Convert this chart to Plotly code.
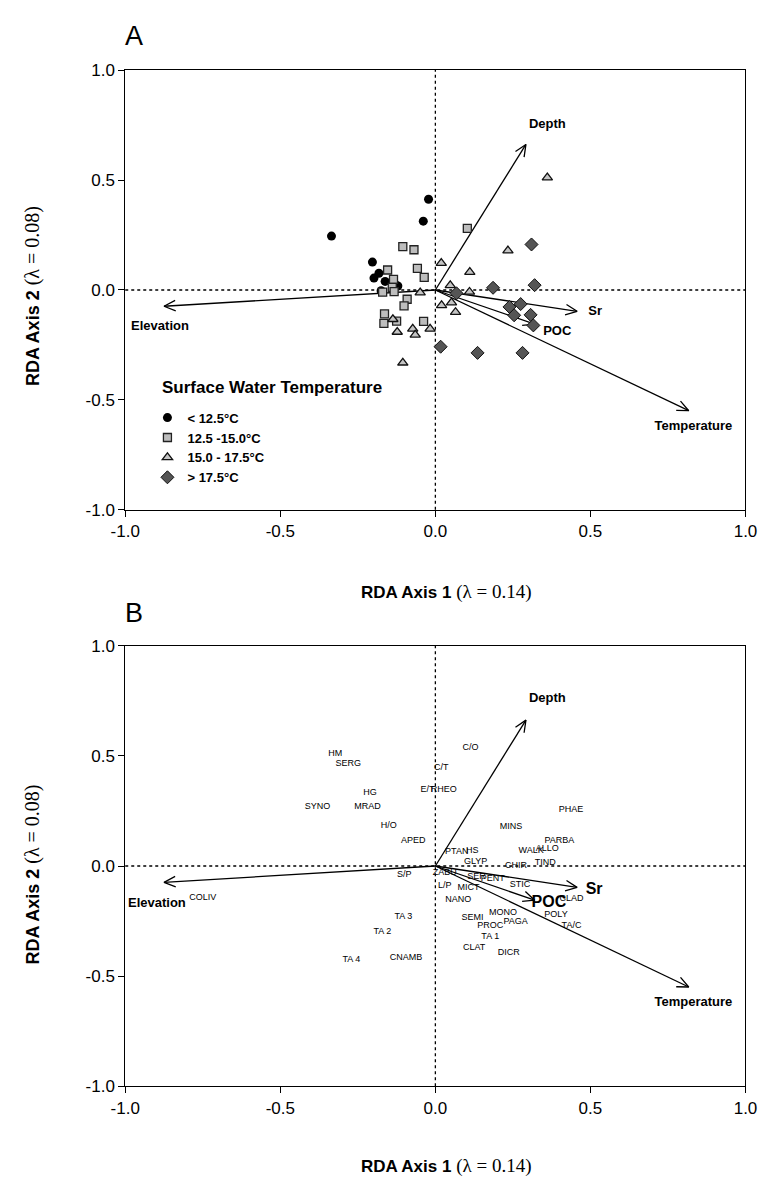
import math
import plotly.graph_objects as go

# ---------------- data ----------------
# Panel A: site scores by surface water temperature class
cold_x = [-0.335, -0.022, -0.039, -0.203, -0.182, -0.198, -0.162, -0.121, -0.130, -0.175]
cold_y = [0.245, 0.413, 0.313, 0.127, 0.076, 0.054, 0.039, 0.018, 0.027, -0.003]

cool_x = [0.103, -0.105, -0.069, -0.058, -0.154, -0.036, -0.135, -0.139, -0.170, -0.133,
          -0.091, -0.101, -0.164, -0.125, -0.166, -0.038]
cool_y = [0.280, 0.197, 0.183, 0.098, 0.091, 0.057, 0.048, 0.012, -0.010, -0.007,
          -0.042, -0.072, -0.109, -0.142, -0.152, -0.143]

warm_x = [0.361, 0.234, 0.019, 0.111, 0.048, 0.110, -0.049, 0.020, 0.052, 0.065,
          -0.137, -0.123, -0.073, -0.065, -0.017, -0.105]
warm_y = [0.511, 0.179, 0.122, 0.081, 0.021, -0.009, -0.012, -0.070, -0.057, -0.101,
          -0.133, -0.191, -0.177, -0.204, -0.177, -0.331]

hot_x = [0.310, 0.320, 0.186, 0.068, 0.275, 0.239, 0.254, 0.307, 0.316, 0.017, 0.136, 0.281]
hot_y = [0.207, 0.022, 0.010, -0.015, -0.064, -0.077, -0.115, -0.113, -0.161, -0.258, -0.286, -0.286]

class_names = ["< 12.5°C", "12.5 -15.0°C", "15.0 - 17.5°C", "> 17.5°C"]

# Environmental vectors (both panels)
env_names = ["Depth", "Elevation", "Sr", "POC", "Temperature"]
env_x = [0.292, -0.875, 0.457, 0.320, 0.817]
env_y = [0.662, -0.074, -0.097, -0.155, -0.549]

# Label positions for the vectors
envA_lx = [0.361, -0.888, 0.515, 0.393, 0.832]
envA_ly = [0.752, -0.166, -0.098, -0.192, -0.622]
envA_size = [13, 13, 13, 13, 13]
envB_lx = [0.361, -0.898, 0.512, 0.366, 0.832]
envB_ly = [0.758, -0.171, -0.107, -0.169, -0.622]
envB_size = [13, 13, 16, 16, 13]

# Panel B: taxa scores
taxa = ["HM", "SERG", "C/O", "C/T", "E/T", "RHEO", "HG", "SYNO", "MRAD", "PHAE",
        "H/O", "MINS", "APED", "PARBA", "PTAN", "HS", "WALK", "ALLO", "GLYP", "TIND",
        "CHIR", "S/P", "ZABU", "SER", "PENT", "L/P", "MICT", "STIC", "NANO", "CLAD",
        "MONO", "SEMI", "POLY", "PROC", "PAGA", "TA/C", "TA 1", "CLAT", "DICR",
        "TA 3", "TA 2", "TA 4", "CNAMB", "COLIV"]
taxa_x = [-0.323, -0.281, 0.113, 0.019, -0.025, 0.027, -0.211, -0.380, -0.219, 0.437,
          -0.150, 0.244, -0.071, 0.400, 0.069, 0.119, 0.309, 0.361, 0.130, 0.354,
          0.260, -0.100, 0.030, 0.133, 0.185, 0.030, 0.107, 0.273, 0.074, 0.439,
          0.218, 0.120, 0.389, 0.177, 0.259, 0.439, 0.177, 0.125, 0.237,
          -0.103, -0.171, -0.271, -0.095, -0.750]
taxa_y = [0.510, 0.465, 0.537, 0.447, 0.346, 0.346, 0.331, 0.271, 0.268, 0.256,
          0.183, 0.176, 0.115, 0.116, 0.063, 0.069, 0.069, 0.079, 0.019, 0.015,
          0.000, -0.040, -0.030, -0.049, -0.060, -0.089, -0.097, -0.085, -0.152, -0.149,
          -0.212, -0.236, -0.221, -0.271, -0.253, -0.273, -0.321, -0.373, -0.395,
          -0.231, -0.298, -0.425, -0.415, -0.142]

tick_vals = [-1.0, -0.5, 0.0, 0.5, 1.0]
tick_text = ["-1.0", "-0.5", "0.0", "0.5", "1.0"]

# ---------------- layout geometry ----------------
# The page body has a default 8px margin, so the figure is drawn 8px in from the
# window's top-left corner; screen positions are converted to paper fractions.
OFF = 8
W, H = 771 - OFF, 1187 - 2 * OFF


def px(sx):
    return (sx - OFF) / W


def py(sy):
    return 1 - (sy - OFF) / H


X_DOM = [px(114), px(757)]
YA_DOM = [py(509), py(62)]
YB_DOM = [py(1095), py(647)]

SANS = "Arial, Liberation Sans, Helvetica, sans-serif"

fig = go.Figure()


def arrow_segments(vx, vy, ydom, head_len=13.0, head_ang=24.0):
    ux = (X_DOM[1] - X_DOM[0]) * W / 2.0
    uy = (ydom[1] - ydom[0]) * H / 2.0
    xs, ys = [], []
    for x, y in zip(vx, vy):
        ppx, ppy = x * ux, y * uy
        L = math.hypot(ppx, ppy)
        dx, dy = ppx / L, ppy / L
        xs += [0, x, None]
        ys += [0, y, None]
        for s in (1, -1):
            a = math.radians(head_ang) * s
            rx = dx * math.cos(a) - dy * math.sin(a)
            ry = dx * math.sin(a) + dy * math.cos(a)
            xs += [(ppx - head_len * rx) / ux, x]
            ys += [(ppy - head_len * ry) / uy, y]
        xs.append(None)
        ys.append(None)
    return xs, ys


# ---- Panel A ----
ax, ay = arrow_segments(env_x, env_y, YA_DOM)
fig.add_trace(go.Scatter(x=ax, y=ay, mode="lines", line=dict(color="black", width=1.3),
                         showlegend=False, hoverinfo="skip", xaxis="x", yaxis="y"))

marker_styles = [
    dict(symbol="circle", size=9, color="black", line=dict(color="black", width=0)),
    dict(symbol="square", size=8, color="#bdbdbd", line=dict(color="#222222", width=1.3)),
    dict(symbol="triangle-up", size=9, color="#c4c4c4", line=dict(color="#111111", width=1.3)),
    dict(symbol="diamond", size=10, color="#555555", line=dict(color="#111111", width=1)),
]
for name, xs, ys, mk in zip(class_names, [cold_x, cool_x, warm_x, hot_x],
                            [cold_y, cool_y, warm_y, hot_y], marker_styles):
    fig.add_trace(go.Scatter(x=xs, y=ys, mode="markers", name=name, marker=mk,
                             xaxis="x", yaxis="y", showlegend=True))

fig.add_trace(go.Scatter(x=envA_lx, y=envA_ly, mode="text", text=[f"<b>{t}</b>" for t in env_names],
                         textfont=dict(family=SANS, size=envA_size, color="black"),
                         showlegend=False, hoverinfo="skip", xaxis="x", yaxis="y"))

# ---- Panel B ----
bx, by = arrow_segments(env_x, env_y, YB_DOM)
fig.add_trace(go.Scatter(x=bx, y=by, mode="lines", line=dict(color="black", width=1.3),
                         showlegend=False, hoverinfo="skip", xaxis="x2", yaxis="y2"))
fig.add_trace(go.Scatter(x=taxa_x, y=taxa_y, mode="text", text=taxa,
                         textfont=dict(family=SANS, size=9, color="black"),
                         showlegend=False, hoverinfo="skip", xaxis="x2", yaxis="y2"))
fig.add_trace(go.Scatter(x=envB_lx, y=envB_ly, mode="text", text=[f"<b>{t}</b>" for t in env_names],
                         textfont=dict(family=SANS, size=envB_size, color="black"),
                         showlegend=False, hoverinfo="skip", xaxis="x2", yaxis="y2"))

axis_common = dict(range=[-1, 1], tickvals=tick_vals, ticktext=tick_text, showgrid=False,
                   zeroline=False, showline=True, mirror=True, linecolor="black", linewidth=1,
                   ticks="outside", ticklen=6, tickwidth=1, tickcolor="black",
                   tickfont=dict(family=SANS, size=17, color="black"), fixedrange=True)

fig.update_layout(
    width=W, height=H,
    margin=dict(l=0, r=0, t=0, b=0),
    paper_bgcolor="white", plot_bgcolor="white",
    font=dict(family=SANS, color="black"),
    xaxis=dict(domain=X_DOM, anchor="y", **axis_common),
    yaxis=dict(domain=YA_DOM, anchor="x", **axis_common),
    xaxis2=dict(domain=X_DOM, anchor="y2", **axis_common),
    yaxis2=dict(domain=YB_DOM, anchor="x2", **axis_common),
    showlegend=True,
    legend=dict(x=px(137), y=py(400), xanchor="left", yanchor="top",
                bgcolor="rgba(0,0,0,0)", borderwidth=0,
                font=dict(family=SANS, size=13, color="black", weight="bold"),
                itemwidth=30, tracegroupgap=0),
)

# dotted zero lines
for xr, yr in [("x", "y"), ("x2", "y2")]:
    fig.add_shape(type="line", xref=xr, yref=f"{yr} domain", x0=0, x1=0, y0=0, y1=1,
                  line=dict(color="black", width=1.3, dash="dot"), layer="below")
    fig.add_shape(type="line", xref=f"{xr} domain", yref=yr, x0=0, x1=1, y0=0, y1=0,
                  line=dict(color="black", width=1.3, dash="dot"), layer="below")

serif_x = "font-family:Liberation Serif, Times New Roman, serif;font-size:19px;font-weight:normal"
serif_y = "font-family:Liberation Serif, Times New Roman, serif;font-size:20px;font-weight:normal"
xtitle = f"<b>RDA Axis 1</b> <span style='{serif_x}'>(λ = 0.14)</span>"
ytitle = f"<b>RDA Axis 2</b> <span style='{serif_y}'>(λ = 0.08)</span>"

annots = [
    dict(text="A", x=px(123), y=py(27), font=dict(family=SANS, size=27, color="black")),
    dict(text="B", x=px(123), y=py(614), font=dict(family=SANS, size=27, color="black")),
    dict(text=xtitle, x=px(446), y=py(592), font=dict(family=SANS, size=17, color="black")),
    dict(text=xtitle, x=px(446), y=py(1176), font=dict(family=SANS, size=17, color="black")),
    dict(text=ytitle, x=px(18), y=py(292), textangle=-90, font=dict(family=SANS, size=18, color="black")),
    dict(text=ytitle, x=px(18), y=py(880), textangle=-90, font=dict(family=SANS, size=18, color="black")),
    dict(text="<b>Surface Water Temperature</b>", x=px(150), y=py(385), xanchor="left",
         font=dict(family=SANS, size=17, color="black")),
]
for a in annots:
    a.setdefault("xanchor", "center")
    fig.add_annotation(xref="paper", yref="paper", showarrow=False, yanchor="middle", **a)

fig.write_html("out.html")
